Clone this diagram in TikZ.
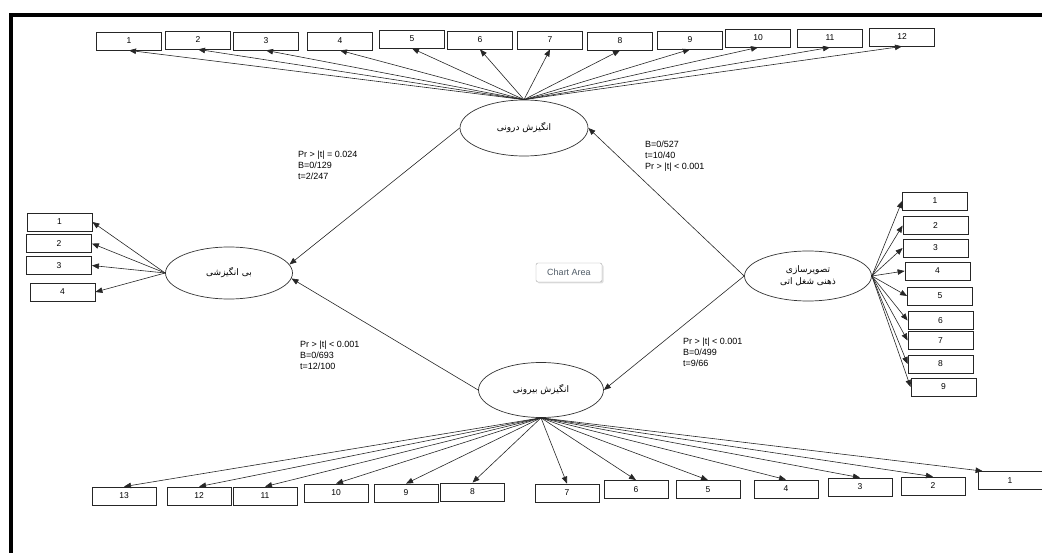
\documentclass[tikz,border=0pt]{standalone}
\usepackage{fontspec}
\setmainfont{Liberation Sans}
\newfontfamily\persian[Script=Arabic]{DejaVu Sans}
\TeXXeTstate=1
\usetikzlibrary{shapes.geometric,arrows.meta,shadows}
\definecolor{chartgray}{HTML}{4F5B66}

\begin{document}
\begin{tikzpicture}[x=1pt,y=-1pt,
  item/.style={draw=black!85,line width=0.8pt,minimum width=65pt,minimum height=18pt,inner sep=0pt,font=\fontsize{8.5}{9}\selectfont},
  latent/.style={ellipse,draw=black!80,line width=0.7pt,inner sep=0pt,font=\persian\fontsize{9}{12}\selectfont},
  load/.style={-{Triangle[length=7pt,width=5.5pt]},black!85,line width=0.6pt},
  stat/.style={align=left,anchor=north west,inner sep=0pt,font=\fontsize{9}{11}\selectfont}]
\useasboundingbox (0,0) rectangle (1042,553);

% Frame
\draw[line width=4pt] (11,553) -- (11,15) -- (1042,15);

% Latent variables
\node[latent,minimum width=128pt,minimum height=56pt] (intr) at (524,128) {\beginR انگیزش درونی\endR};
\node[latent,minimum width=127pt,minimum height=52pt] (amot) at (229,273) {\beginR بی انگیزشی\endR};
\node[latent,minimum width=127pt,minimum height=50pt,align=center] (imag) at (808,276)
  {\beginR تصویرسازی\endR\\\beginR ذهنی شغل اتی\endR};
\node[latent,minimum width=125pt,minimum height=55pt] (extr) at (541,390) {\beginR انگیزش بیرونی\endR};

% Indicators
\foreach \i/\x/\y in {1/129/41,2/198/40,3/266/41,4/340/41,5/412/39,6/480/40,
                      7/550/40,8/620/41,9/690/40,10/758/38,11/830/38,12/902/37}
  \node[item] (t\i) at (\x,\y) {\i};
\foreach \i/\x/\y in {1/59.5/222,2/59/243.5,3/59/265.5,4/62.5/292}
  \node[item] (l\i) at (\x,\y) {\i};
\foreach \i/\x/\y in {1/935/201,2/935.5/225.5,3/935.5/248,4/937.5/271,5/940/296,
                      6/940.5/320.5,7/940.5/340.5,8/940.5/364,9/943.5/387}
  \node[item] (r\i) at (\x,\y) {\i};
\foreach \i/\x/\y in {1/1010/480.5,2/933/486,3/860/487,4/786/489,5/708/489.5,6/636/489.5,
                      7/567/493,8/472.5/492,9/406/493,10/336/493,11/265/496,12/199/496,13/124/496}
  \node[item,minimum width=64pt] (b\i) at (\x,\y) {\i};

% Loadings
\foreach \i in {1,...,12}
  \draw[load] (intr.north) -- (t\i.south);
\foreach \i in {1,...,4}
  \draw[load] (amot.west) -- (l\i.east);
\foreach \i in {1,...,9}
  \draw[load] (imag.east) -- (r\i.west);
\foreach \i in {2,...,13}
  \draw[load] (extr.south) -- (b\i.north);
\draw[load] (extr.south) -- ([xshift=5pt]b1.north west);

% Paths
\draw[load] (intr.west) -- (amot.8);
\draw[load] (extr.west) -- (amot.-5);
\draw[load] (imag.west) -- (intr.east);
\draw[load] (imag.west) -- (extr.east);

% Path coefficients
\node[stat] (s1) at (298,151) {Pr > |t| = 0.024\\B=0/129\\t=2/247};
\node[stat] (s2) at (645,141) {B=0/527\\t=10/40\\Pr > |t| < 0.001};
\node[stat] (s3) at (300,341) {Pr > |t| < 0.001\\B=0/693\\t=12/100};
\node[stat] (s4) at (683,338) {Pr > |t| < 0.001\\B=0/499\\t=9/66};

% Chart area tag
\node[draw=black!35,fill=white,rounded corners=2pt,minimum width=66pt,minimum height=19pt,inner sep=0pt,
  text=chartgray,font=\fontsize{9}{10}\selectfont,
  drop shadow={shadow xshift=1.5pt,shadow yshift=-1.5pt,opacity=0.25}] (tag) at (569,272.5) {Chart Area};
\end{tikzpicture}
\end{document}
